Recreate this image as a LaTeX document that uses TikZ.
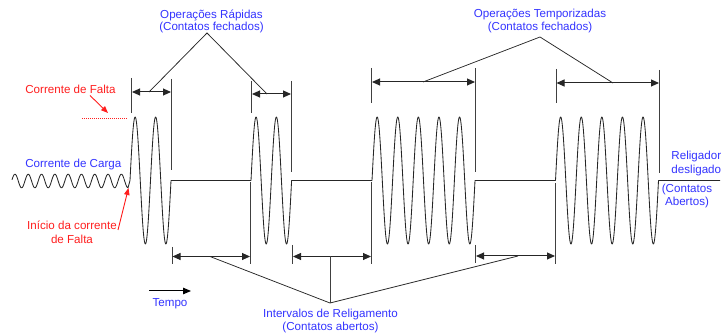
\documentclass[tikz,border=0pt]{standalone}
\usepackage{fontspec}
\setmainfont{Liberation Sans}
\usetikzlibrary{arrows.meta}
\definecolor{tblue}{RGB}{51,51,255}
\definecolor{tred}{RGB}{255,30,30}
\begin{document}
\begin{tikzpicture}[x=1pt,y=-1pt,
  wave/.style={line width=0.85pt, black!85},
  vline/.style={line width=1pt, black!75},
  dimarrow/.style={line width=1pt, black!85, {Triangle[length=8pt,width=7pt]}-{Triangle[length=8pt,width=7pt]}},
  leader/.style={line width=0.75pt, black!85},
  redarrow/.style={line width=0.9pt, tred, -{Triangle[length=7pt,width=5.5pt]}},
  lbl/.style={font=\fontsize{11.6}{12.7}\selectfont, text=tblue, inner sep=0pt, align=center, anchor=base},
  lblred/.style={lbl, text=tred},
]
\useasboundingbox (0,0) rectangle (722,336);

% waveform
\draw[wave, line join=round]
  plot[domain=12:128, samples=240] (\x, {181 + 6.8*cos((\x-128)/13.3*360)})
  -- plot[domain=130:171, samples=120] (\x, {180.5 - 63.5*sin((\x-130)/20.5*360)})
  -- plot[domain=251:291.6, samples=120] (\x, {180.5 - 63.5*sin((\x-251)/20.3*360)})
  -- plot[domain=372:475, samples=260] (\x, {180.5 - 63.5*sin((\x-372)/20.6*360)})
  -- plot[domain=555.5:658.5, samples=260] (\x, {180.5 - 63.5*sin((\x-555.5)/20.6*360)})
  -- (720,180.5);

% vertical markers (top)
\draw[vline] (131.5,78) -- (131.5,113);
\draw[vline] (171,79) -- (171,170);
\draw[vline] (251.5,81) -- (251.5,113);
\draw[vline] (291,81) -- (291,172);
\draw[vline] (371.5,68) -- (371.5,103);
\draw[vline] (475,68) -- (475,172);
\draw[vline] (556,69) -- (556,103);
\draw[vline] (659.5,70) -- (659.5,173);
% vertical markers (bottom)
\draw[vline] (172,247) -- (172,264);
\draw[vline] (250.5,182) -- (250.5,264);
\draw[vline] (292.5,245) -- (292.5,264);
\draw[vline] (371.5,182) -- (371.5,264);
\draw[vline] (475.5,245) -- (475.5,263);
\draw[vline] (555.5,183) -- (555.5,264);

% dimension arrows
\coordinate (a1L) at (132,92);   \coordinate (a1R) at (171,92);
\coordinate (a2L) at (252,94);   \coordinate (a2R) at (291,94);
\coordinate (a3L) at (372,82);   \coordinate (a3R) at (475,82);
\coordinate (a4L) at (556.5,83); \coordinate (a4R) at (659,83);
\coordinate (b1L) at (172.5,256.5); \coordinate (b1R) at (250,256.5);
\coordinate (b2L) at (293,256.5);   \coordinate (b2R) at (371,256.5);
\coordinate (b3L) at (476,256);     \coordinate (b3R) at (555,256);
\foreach \p in {a1,a2,a3,a4,b1,b2,b3} \draw[dimarrow] (\p L) -- (\p R);

% labels (anchor=base of a multi-line node = baseline of its last line)
\node[lbl] (opR) at (211.5,31) {Operações Rápidas\\(Contatos fechados)};
\node[lbl] (opT) at (540,30.2) {Operações Temporizadas\\(Contatos fechados)};
\node[lbl] (intv) at (330.5,330) {Intervalos de Religamento\\(Contatos abertos)};
\node[lbl] (tempo) at (170,306.7) {Tempo};
\node[lblred] (falta) at (70.5,93.3) {Corrente de Falta};
\node[lbl] (carga) at (73.3,167.3) {Corrente de Carga};
\node[lblred, font=\fontsize{11.6}{14}\selectfont] (inicio) at (72,244) {Início da corrente\\de Falta};
\node[lbl, font=\fontsize{11.6}{14.7}\selectfont] (relig) at (696.3,174) {Religador\\desligado};
\node[lbl, font=\fontsize{11.6}{13.3}\selectfont] (contab) at (687,206) {(Contatos\\Abertos)};

% leader lines
\coordinate (apR) at (207,33);
\coordinate (apT) at (540,37);
\coordinate (apI) at (330,303);
\coordinate (lR1) at (149,92);  \coordinate (lR2) at (267,94);
\coordinate (lT1) at (423,82);  \coordinate (lT2) at (613,83);
\coordinate (lI1) at (210,256.5); \coordinate (lI2) at (330,256.5); \coordinate (lI3) at (518,256);
\draw[leader] (lR1) -- (apR) -- (lR2);
\draw[leader] (lT1) -- (apT) -- (lT2);
\draw[leader] (lI1) -- (apI) -- (lI3);
\draw[vline] (apI) -- (lI2);

% tempo arrow
\coordinate (t0) at (149,291); \coordinate (t1) at (191,291);
\draw[line width=1pt, -{Triangle[length=8pt,width=6.5pt]}] (t0) -- (t1);

% fault markers
\coordinate (dot0) at (82,118); \coordinate (dot1) at (128,118);
\draw[tred, line width=0.8pt, dash pattern=on 1pt off 1pt] (dot0) -- (dot1);
\coordinate (fa0) at (90,95.5); \coordinate (fa1) at (108,113);
\draw[redarrow] (fa0) -- (fa1);
\coordinate (ia0) at (118,230); \coordinate (ia1) at (128.5,188);
\draw[redarrow] (ia0) -- (ia1);
\end{tikzpicture}
\end{document}
